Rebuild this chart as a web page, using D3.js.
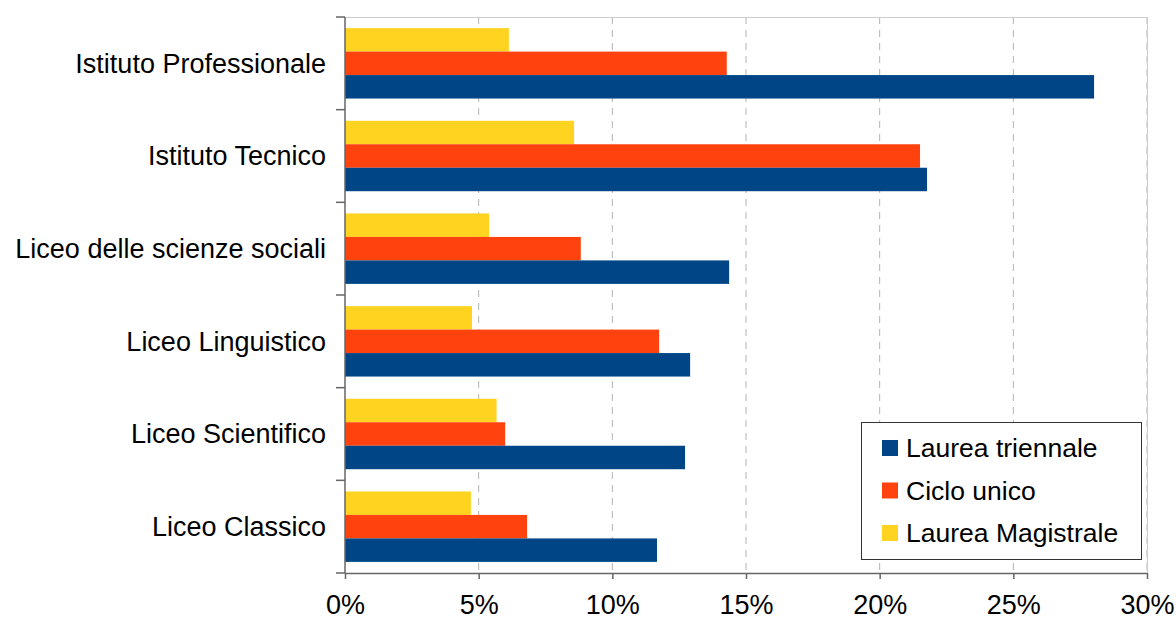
<!DOCTYPE html>
<html>
<head>
<meta charset="utf-8">
<script src="https://cdn.jsdelivr.net/npm/d3@7"></script>
<style>
  html, body { margin: 0; padding: 0; background: #fff; }
  svg { display: block; font-family: "Liberation Sans", Arial, sans-serif; }
</style>
</head>
<body>
<svg id="chart" width="1176" height="617"></svg>
<script>
// Categories (top to bottom) and the share of students per degree type
const categories = [
  "Istituto Professionale",
  "Istituto Tecnico",
  "Liceo delle scienze sociali",
  "Liceo Linguistico",
  "Liceo Scientifico",
  "Liceo Classico"
];
const seriesNames = ["Laurea Magistrale", "Ciclo unico", "Laurea triennale"];
const laureaMagistrale = [6.13, 8.57, 5.39, 4.75, 5.67, 4.71];
const cicloUnico       = [14.28, 21.51, 8.82, 11.75, 5.99, 6.81];
const laureaTriennale  = [28.02, 21.77, 14.37, 12.91, 12.72, 11.67];
const xTicks = [0, 5, 10, 15, 20, 25, 30];
const legendOrder = ["Laurea triennale", "Ciclo unico", "Laurea Magistrale"];

const colors = {
  "Laurea triennale": "#004586",
  "Ciclo unico": "#ff420e",
  "Laurea Magistrale": "#ffd320"
};
const valuesBySeries = {
  "Laurea Magistrale": laureaMagistrale,
  "Ciclo unico": cicloUnico,
  "Laurea triennale": laureaTriennale
};

const svg = d3.select("#chart");
const margin = { left: 345, top: 17, right: 1147, bottom: 573 };
const fontSize = 27;
const legendFontSize = 26.5;

const x = d3.scaleLinear().domain([0, 30]).range([margin.left, margin.right]);
const y = d3.scaleBand().domain(categories).range([margin.top, margin.bottom]).paddingInner(0.24).paddingOuter(0.12);
const ySub = d3.scaleBand().domain(seriesNames).range([0, y.bandwidth()]);

// dashed vertical gridlines
svg.append("g")
  .selectAll("line")
  .data(xTicks.slice(1))
  .join("line")
  .attr("x1", d => x(d)).attr("x2", d => x(d))
  .attr("y1", margin.top).attr("y2", margin.bottom)
  .attr("stroke", "#b3b3b3")
  .attr("stroke-width", 1)
  .attr("stroke-dasharray", "7,6");

// light frame at top and right of the plot area
svg.append("path")
  .attr("d", `M${margin.left},${margin.top + 0.5}H${margin.right + 0.5}V${margin.bottom}`)
  .attr("fill", "none")
  .attr("stroke", "#cccccc")
  .attr("stroke-width", 1);

// bars
const groups = svg.append("g")
  .selectAll("g")
  .data(categories)
  .join("g")
  .attr("transform", d => `translate(0,${y(d)})`);

groups.selectAll("rect")
  .data((c, i) => seriesNames.map(s => ({ s, v: valuesBySeries[s][i] })))
  .join("rect")
  .attr("x", x(0))
  .attr("y", d => ySub(d.s))
  .attr("width", d => x(d.v) - x(0))
  .attr("height", ySub.bandwidth())
  .attr("fill", d => colors[d.s]);

// x axis
const xAxis = svg.append("g")
  .attr("transform", `translate(0,${margin.bottom})`)
  .call(d3.axisBottom(x).tickValues(xTicks).tickFormat(d => d + "%").tickSizeInner(6).tickSizeOuter(0).tickPadding(16));
xAxis.select(".domain").attr("stroke", "#666").attr("stroke-width", 1.5);
xAxis.selectAll(".tick line").attr("stroke", "#666").attr("stroke-width", 1.5);
xAxis.selectAll("text").attr("font-size", fontSize).attr("fill", "#000")
  .attr("font-family", '"Liberation Sans", Arial, sans-serif');

// y axis: ticks sit on the band boundaries, labels at the band centres
const boundaries = d3.range(categories.length + 1).map(i => margin.top + i * (margin.bottom - margin.top) / categories.length);
const yAxisG = svg.append("g");
yAxisG.append("line")
  .attr("x1", margin.left).attr("x2", margin.left)
  .attr("y1", margin.top).attr("y2", margin.bottom)
  .attr("stroke", "#666").attr("stroke-width", 1.5);
yAxisG.selectAll(".ytick")
  .data(boundaries)
  .join("line")
  .attr("class", "ytick")
  .attr("x1", margin.left - 9).attr("x2", margin.left)
  .attr("y1", d => d).attr("y2", d => d)
  .attr("stroke", "#666").attr("stroke-width", 1.5);
yAxisG.selectAll("text")
  .data(categories)
  .join("text")
  .attr("x", margin.left - 19)
  .attr("y", d => y(d) + y.bandwidth() / 2)
  .attr("dy", "0.35em")
  .attr("text-anchor", "end")
  .attr("font-size", fontSize)
  .attr("fill", "#000")
  .text(d => d);

// legend
const legend = svg.append("g").attr("transform", "translate(861,422)");
legend.append("rect")
  .attr("x", 0.5).attr("y", 0.5)
  .attr("width", 280).attr("height", 137)
  .attr("fill", "#fff")
  .attr("stroke", "#333")
  .attr("stroke-width", 1);
const items = legend.selectAll(".item")
  .data(legendOrder)
  .join("g")
  .attr("class", "item")
  .attr("transform", (d, i) => `translate(21,${26 + i * 42.5})`);
items.append("rect")
  .attr("x", 0).attr("y", -8)
  .attr("width", 16).attr("height", 16)
  .attr("fill", d => colors[d]);
items.append("text")
  .attr("x", 24).attr("y", 0)
  .attr("dy", "0.35em")
  .attr("font-size", legendFontSize)
  .attr("fill", "#000")
  .text(d => d);
</script>
</body>
</html>
